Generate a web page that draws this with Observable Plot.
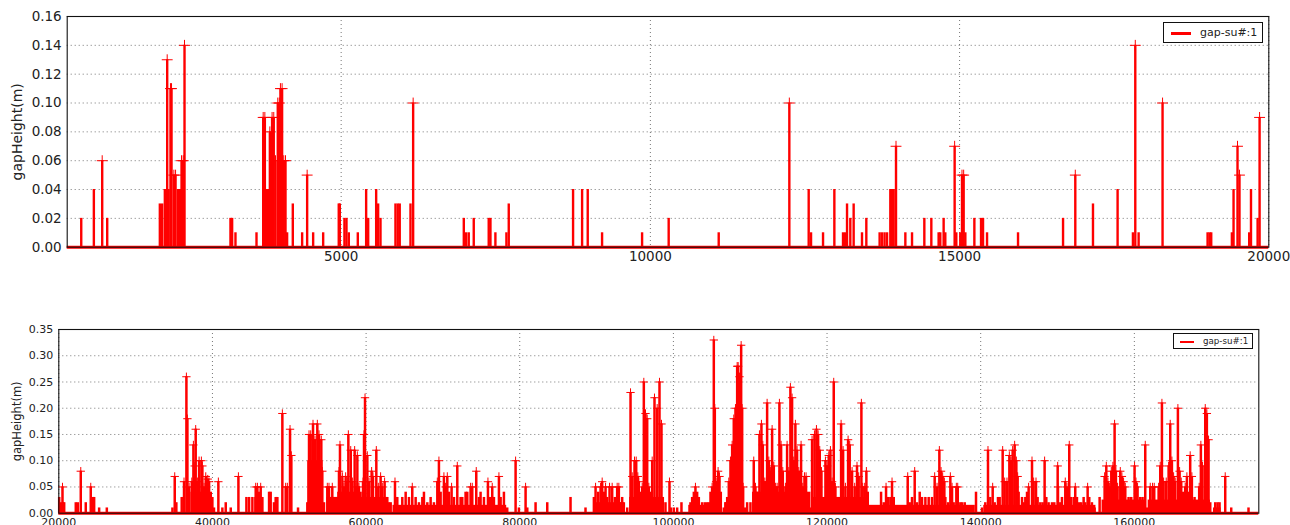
<!DOCTYPE html>
<html>
<head>
<meta charset="utf-8">
<script src="https://cdn.jsdelivr.net/npm/d3@7"></script>
<script src="https://cdn.jsdelivr.net/npm/@observablehq/plot@0.6"></script>
<style>
  html, body { margin: 0; padding: 0; background: #fff; }
  #wrap { position: relative; width: 1290px; height: 525px; overflow: hidden; font-family: "DejaVu Sans", sans-serif; }
  .panel { position: absolute; left: 0; }
  .legend { position: absolute; border: 1px solid #111; background: #fff; box-sizing: border-box; }
  .legend .swatch { position: absolute; background: #ff0000; }
  .legend .lab { position: absolute; color: #222; white-space: nowrap; line-height: 1; }
</style>
</head>
<body>
<div id="wrap"></div>
<script>
// ---------- data ----------
const seriesName = "gap-su#:1";
const yLabel = "gapHeight(m)";

// top panel: [position, gapHeight]
const topPeaks = [
  [797,.02],[1001,.04],[1136,.06],[1217,.02],[2068,.03],[2106,.03],[2149,.04],[2187,.13],[2210,.04],
  [2240,.11],[2257,.11],[2295,.05],[2322,.05],[2360,.04],[2391,.04],[2419,.06],[2446,.06],[2467,.14],
  [3210,.02],[3237,.02],[3291,.01],[3631,.01],[3739,.09],[3766,.09],[3793,.04],[3820,.04],[3847,.08],
  [3883,.09],[3910,.09],[3938,.06],[3975,.10],[4000,.10],[4018,.11],[4045,.11],[4072,.06],[4100,.06],
  [4126,.01],[4218,.03],[4369,.01],[4450,.05],[4547,.01],[4709,.01],[4961,.03],[4978,.03],[5053,.02],
  [5086,.02],[5124,.01],[5269,.01],[5404,.04],[5437,.02],[5566,.04],[5598,.03],[5636,.02],[5878,.03],
  [5915,.03],[5947,.03],[6121,.03],[6164,.10],[6983,.02],[7021,.01],[7063,.01],[7144,.02],[7386,.02],
  [7414,.02],[7494,.01],[7672,.01],[7710,.03],[8750,.04],[8896,.04],[8987,.04],[9219,.01],[9866,.01],
  [10296,.02],[11105,.01],[12247,.10],[12560,.04],[12598,.01],[12792,.01],[12975,.04],[13115,.01],
  [13150,.01],[13180,.03],[13233,.02],[13287,.03],[13422,.01],[13492,.02],[13707,.01],[13745,.01],
  [13787,.01],[13827,.01],[13880,.04],[13907,.04],[13934,.04],[13972,.07],[14123,.01],[14231,.01],
  [14430,.02],[14543,.02],[14661,.01],[14688,.01],[14742,.02],[14769,.01],[14920,.07],[14947,.01],
  [15011,.01],[15039,.05],[15066,.05],[15093,.01],[15239,.02],[15347,.02],[15379,.02],[15444,.01],
  [15945,.01],[16673,.02],[16871,.05],[17157,.03],[17555,.04],[17803,.01],[17841,.14],[17895,.01],
  [18282,.10],[19010,.01],[19042,.01],[19069,.01],[19403,.01],[19430,.04],[19494,.07],[19526,.05],
  [19683,.01],[19712,.04],[19819,.02],[19851,.09]
];

// bottom panel: [position, gapHeight]
const botPeaks = [
  [20050,.03],[20480,.05],[20700,.02],[22210,.02],[22470,.02],[22860,.08],[23510,.02],[24160,.05],
  [24420,.03],[24600,.03],[25250,.01],[26250,.01],[34790,.01],[35090,.07],[35300,.02],[36000,.03],
  [36300,.06],[36610,.26],[36740,.18],[36960,.05],[37310,.06],[37520,.13],[37690,.09],[37820,.16],
  [38040,.06],[38260,.10],[38560,.10],[38690,.09],[38910,.05],[39130,.07],[39390,.065],[39560,.06],
  [39780,.04],[39990,.03],[40200,.01],[40770,.06],[41290,.01],[41730,.02],[42380,.01],[43380,.07],
  [44420,.03],[44770,.03],[45200,.03],[45630,.05],
  [45850,.05],[46080,.04],[46280,.05],[46500,.03],[47370,.04],[47580,.04],[48010,.02],[48230,.03],
  [48450,.03],[49100,.19],[49530,.05],[49750,.05],[50100,.16],[50270,.11],[51140,.01],[52350,.02],
  [52570,.15],[52790,.15],[53090,.17],[53350,.14],[53650,.17],[53870,.15],[54170,.14],[54300,.08],
  [54520,.02],[54950,.05],[55170,.05],[55390,.03],[55600,.05],[55820,.03],[56040,.03],[56260,.03],
  [56470,.08],[56600,.13],[56910,.07],[57120,.05],[57340,.07],[57560,.06],[57690,.15],[58000,.12],
  [58210,.06],[58510,.12],[58680,.05],[58860,.11],[59070,.05],[59420,.03],[59600,.06],[59730,.15],
  [59860,.22],[60160,.11],[60380,.06],[60720,.08],[60900,.07],[61330,.12],[61590,.05],[61890,.07],
  [62110,.05],[62410,.06],[62760,.03],[62980,.02],[63200,.02],[63760,.06],[64060,.03],[64280,.01],
  [64710,.03],[65150,.04],[65580,.03],[66010,.05],[66450,.03],[66880,.02],[67320,.03],[67530,.04],
  [67970,.02],[68400,.03],[68830,.02],[69270,.06],[69480,.10],[69700,.04],[70130,.07],[70350,.05],
  [70570,.07],[70790,.04],[71130,.05],[71440,.03],[71870,.09],
  [72300,.03],[72520,.03],[72950,.04],[73170,.04],[73600,.05],[73820,.05],[74340,.08],[74690,.03],
  [74900,.04],[75340,.03],[75860,.06],[76120,.03],[76420,.05],[76640,.03],[77290,.07],[77510,.03],
  [77940,.04],[78370,.01],[79460,.10],[79890,.01],[80760,.05],[80980,.01],[82060,.02],[83580,.02],
  [86610,.03],[88560,.01],[89650,.03],[89870,.05],[90210,.04],[90520,.05],[90730,.06],[90950,.04],
  [91170,.05],[91380,.03],[91690,.05],[92030,.05],[92380,.03],[92680,.05],[92900,.05],[93120,.02],
  [93330,.03],[93550,.02],[93990,.01],[94420,.23],[94640,.07],[94940,.10],[95160,.10],[95370,.07],
  [95500,.06],[95720,.04],[95940,.05],[96150,.25],[96370,.19],[96590,.18],[96800,.05],[97020,.04],
  [97240,.10],[97540,.22],
  [97890,.20],[98190,.25],[98450,.17],[98620,.03],[98970,.02],[99490,.06],[99670,.01],[100050,.01],
  [100490,.01],[101050,.02],[102220,.02],[102440,.03],[102660,.04],[102870,.05],[103090,.04],
  [103310,.03],[103740,.02],[104090,.02],[104390,.02],[104610,.02],[104830,.04],[105040,.05],
  [105260,.33],[105390,.20],[105560,.06],[105820,.08],[106000,.07],[106170,.04],[106560,.01],
  [106780,.02],[107000,.03],[107210,.06],[107430,.10],[107650,.13],[107860,.18],[108080,.20],
  [108300,.28],[108430,.28],[108600,.26],[108820,.32],[108950,.20],[109080,.05],[109290,.01],
  [109600,.02],[110030,.02],[110460,.10],[110680,.05],[110900,.04],[111200,.15],[111460,.17],
  [111640,.13],[111900,.06],[112200,.21],[112420,.10],[112630,.08],[112850,.16],[113070,.09],
  [113280,.05],[113500,.05],[113800,.21],[114020,.13],[114240,.08],[114580,.05],[114800,.13],
  [115020,.08],[115230,.24],[115450,.22],[115670,.10],[115880,.17],[116100,.12],[116320,.08],
  [116620,.13],[116840,.05],[117060,.07],[117270,.07],[117530,.03],[117840,.01],[118050,.14],
  [118360,.15],[118620,.16],[118840,.15],[119050,.12],[119270,.08],[119490,.02],[119790,.10],
  [120010,.09],[120220,.11],[120440,.12],[120660,.06],[120870,.25],[121090,.05],[121440,.03],
  [121830,.17],[122090,.12],[122390,.05],[122740,.14],[122950,.13],[123260,.08],[123600,.05],
  [123900,.09],[124120,.07],[124470,.21],[124640,.05],[124900,.05],[125120,.08],[125300,.04],
  [127030,.04],[127380,.02],[127680,.05],[127900,.03],[128240,.03],[128460,.06],[128680,.03],
  [130500,.07],[130760,.02],[131060,.03],[131410,.08],[131710,.02],[132060,.04],[132360,.03],
  [132800,.03],[133230,.03],[133660,.03],[134010,.07],[134320,.05],[134620,.12],[134840,.08],
  [135050,.07],[135270,.06],[135400,.03],[135750,.02],[136050,.07],[136270,.05],[136480,.02],
  [136830,.05],[137010,.05],[137350,.02],[137570,.02],[137920,.02],[138440,.01],[138780,.01],
  [139390,.04],[140170,.01],[140600,.02],[140950,.12],[141250,.03],[141560,.05],[141820,.02],
  [142250,.03],[142470,.03],[142860,.12],[143120,.06],[143420,.06],[143730,.11],[143940,.10],
  [144160,.12],[144420,.13],[144640,.10],[144810,.07],[144940,.04],[145380,.03],[145590,.02],
  [145810,.03],[146030,.04],[146240,.05],[146680,.10],[146890,.06],[147200,.06],[147410,.03],
  [147760,.02],[148060,.02],[148320,.10],[148540,.03],[148840,.02],[149280,.02],[149580,.02],
  [150020,.09],[150060,.05],[150360,.02],[150580,.03],[151010,.06],[151230,.05],[151530,.13],
  [151750,.03],[152100,.03],[152310,.05],[152530,.03],[152830,.02],[153090,.02],[153400,.03],
  [153610,.02],[153920,.05],[154130,.03],[154480,.02],[154830,.01],[155480,.03],[156130,.07],
  [156350,.09],[156560,.06],[156780,.05],[157000,.08],[157210,.09],[157430,.17],[157600,.08],
  [157820,.05],[158170,.08],[158380,.07],[158600,.06],[158820,.05],[159250,.03],[159600,.03],
  [160030,.09],[160210,.06],[160420,.05],[160770,.03],[161070,.03],[161420,.13],[161640,.01],
  [162070,.05],[162370,.05],[162590,.05],[162940,.02],[163160,.05],[163370,.09],[163590,.21],
  [163810,.06],[164150,.06],[164460,.09],[164670,.17],[164890,.10],[165110,.07],[165320,.06],
  [165670,.20],[165890,.08],[166100,.06],[166320,.04],[166620,.05],[166840,.07],[167060,.04],
  [167270,.11],[167490,.07],[167840,.03],[168140,.02],[168440,.05],[168660,.13],[168880,.09],
  [169230,.20],[169440,.19],[169660,.14],[169880,.02],[170530,.02],[170830,.02],[171090,.02],
  [171830,.07],[172610,.01],[174860,.01]
];

// bottom panel: dense low-level background [from, to, gapHeight]
const botBase = [
  [20000,20800,.02],[37200,39700,.04],[45500,46500,.03],[52400,54400,.10],[54900,56300,.03],
  [56300,59500,.04],[59500,62800,.03],[63500,71800,.015],[71800,78300,.015],[89600,93600,.02],
  [94300,98600,.03],[102000,105000,.015],[106700,109100,.02],[110300,117900,.04],[118000,123700,.03],
  [123700,125400,.03],[125400,139300,.015],[140400,150100,.015],[150000,155000,.015],
  [155800,161500,.025],[161800,169900,.025],[170300,171300,.01]
];

const topXTicks = [5000, 10000, 15000, 20000];
const topYTicks = [0, 0.02, 0.04, 0.06, 0.08, 0.10, 0.12, 0.14, 0.16];
const botXTicks = [20000, 40000, 60000, 80000, 100000, 120000, 140000, 160000];
const botYTicks = [0, 0.05, 0.10, 0.15, 0.20, 0.25, 0.30, 0.35];
const topXDomain = [570, 20000];
const botXDomain = [20000, 176200];

// ---------- drawing ----------
const RED = "#ff0000";
const wrap = document.getElementById("wrap");
const fmtY = d3.format(".2f");
const fmtX = d => String(d);
const gridStyle = {stroke: "#000", strokeOpacity: 0.6, strokeDasharray: "1,3", strokeWidth: 0.9};

function panel({top, height, mL, mR, mT, mB, xDomain, yDomain, xTicks, yTicks, peaks, base, fontSize, labelSize, labelX, markR, spikeW}) {
  const marks = [
    Plot.gridX(xTicks, gridStyle),
    Plot.gridY(yTicks, gridStyle),
    Plot.axisX(xTicks, {tickSize: 0, tickPadding: 4.5, tickFormat: fmtX, label: null, fontSize}),
    Plot.axisY(yTicks, {tickSize: 0, tickPadding: 5.5, tickFormat: fmtY, label: null, fontSize}),
  ];
  if (base) marks.push(Plot.rectY(base, {x1: d => d[0], x2: d => d[1], y: d => d[2], fill: RED}));
  marks.push(
    Plot.ruleX(peaks, {x: d => d[0], y1: 0, y2: d => d[1], stroke: RED, strokeWidth: spikeW}),
    Plot.ruleY([0], {stroke: RED, strokeWidth: 3}),
    Plot.dot(peaks.filter(d => d[1] >= 0.05), {x: d => d[0], y: d => d[1], symbol: "plus", r: markR, stroke: RED, strokeWidth: 1}),
    Plot.frame({stroke: "#111", strokeWidth: 1.1}),
    Plot.text([yLabel], {frameAnchor: "left", dx: labelX - mL, rotate: -90, textAnchor: "middle", fontSize: labelSize, fill: "#222"})
  );
  const svg = Plot.plot({
    width: 1290, height,
    marginLeft: mL, marginRight: mR, marginTop: mT, marginBottom: mB,
    x: {domain: xDomain},
    y: {domain: yDomain},
    style: {fontFamily: "DejaVu Sans", color: "#222", background: "transparent", overflow: "visible"},
    marks
  });
  svg.classList.add("panel");
  svg.style.top = top + "px";
  wrap.appendChild(svg);
}

panel({top: 0, height: 275, mL: 66.7, mR: 21.7, mT: 16, mB: 28.3,
  xDomain: topXDomain, yDomain: [0, 0.16], xTicks: topXTicks, yTicks: topYTicks,
  peaks: topPeaks, base: null, fontSize: 13.5, labelSize: 14, labelX: 17, markR: 3.6, spikeW: 2.4});

panel({top: 300, height: 225, mL: 58.3, mR: 31.7, mT: 29, mB: 12.3,
  xDomain: botXDomain, yDomain: [0, 0.35], xTicks: botXTicks, yTicks: botYTicks,
  peaks: botPeaks, base: botBase, fontSize: 11, labelSize: 11.5, labelX: 17, markR: 2.8, spikeW: 2.5});

function legend(left, top, w, h, swL, swT, swW, swH, txL, fs) {
  const box = document.createElement("div");
  box.className = "legend";
  Object.assign(box.style, {left: left + "px", top: top + "px", width: w + "px", height: h + "px"});
  const sw = document.createElement("div");
  sw.className = "swatch";
  Object.assign(sw.style, {left: swL + "px", top: swT + "px", width: swW + "px", height: swH + "px"});
  const tx = document.createElement("div");
  tx.className = "lab";
  tx.textContent = seriesName;
  Object.assign(tx.style, {left: txL + "px", top: (h - fs) / 2 - 1 + "px", fontSize: fs + "px"});
  box.appendChild(sw); box.appendChild(tx);
  wrap.appendChild(box);
}
legend(1163, 22, 100, 21, 7, 8.5, 20, 3, 36, 11);
legend(1173, 333, 80, 16, 6, 6.5, 14, 2.5, 29, 8.7);
</script>
</body>
</html>
